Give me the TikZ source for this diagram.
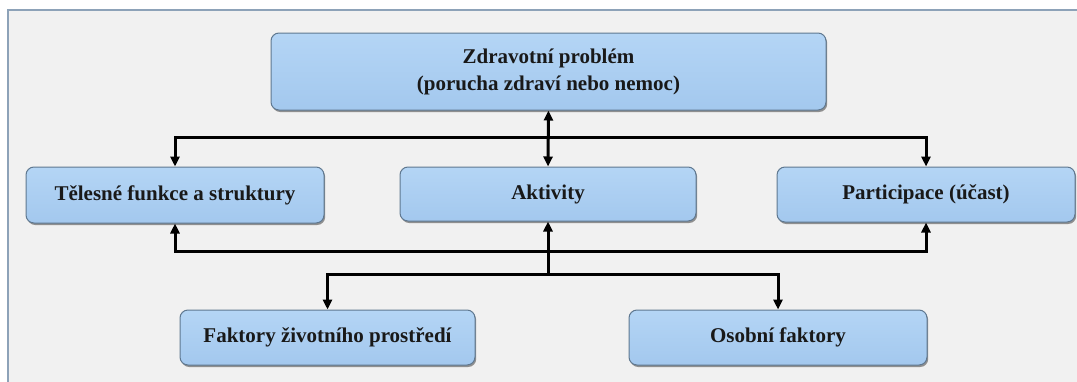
\documentclass[tikz,border=0pt]{standalone}
\usepackage{fontspec}
\setmainfont{Liberation Serif}[BoldFont={Liberation Serif Bold}]
\usetikzlibrary{arrows.meta,shadows}
\definecolor{pagebg}{HTML}{F1F1F1}
\definecolor{framecol}{HTML}{8DA2B8}
\definecolor{boxtop}{HTML}{B4D5F5}
\definecolor{boxbot}{HTML}{A3C8EE}
\definecolor{boxline}{HTML}{5F7890}
\tikzset{
  box/.style={rounded corners=8pt, draw=boxline, line width=1pt,
    top color=boxtop, bottom color=boxbot,
    drop shadow={shadow xshift=1.2pt, shadow yshift=-2pt, opacity=0.55, fill=black!75},
    font=\fontsize{21}{27}\selectfont\bfseries, text=black!90, align=center, inner sep=0pt},
  link/.style={line width=3pt, black, -{Triangle[length=10pt,width=9pt]}},
  twoway/.style={line width=3pt, black, {Triangle[length=10pt,width=9pt]}-{Triangle[length=10pt,width=9pt]}}
}
\begin{document}
\begin{tikzpicture}[x=1pt,y=-1pt]
  \useasboundingbox (0,0) rectangle (1077,381);
  % panel background and its frame
  \fill[white] (0,0) rectangle (1077,381);
  \fill[pagebg] (8,10) rectangle (1080,385);
  \draw[framecol, line width=2pt] (8,385) -- (8,10) -- (1080,10);

  % boxes
  \node[box, minimum width=555pt, minimum height=77pt] (health) at (548.5,71.5)
    {Zdravotní problém\\(porucha zdraví nebo nemoc)};
  \node[box, minimum width=298pt, minimum height=56pt] (body) at (175,195) {Tělesné funkce a struktury};
  \node[box, minimum width=296pt, minimum height=54pt] (act) at (548,194) {Aktivity};
  \node[box, minimum width=298pt, minimum height=55pt] (part) at (926,194.5) {Participace (účast)};
  \node[box, minimum width=295pt, minimum height=55pt] (env) at (327.5,337.5) {Faktory životního prostředí};
  \node[box, minimum width=298pt, minimum height=55pt] (pers) at (778,337.5) {Osobní faktory};

  % junction points of the connector buses
  \coordinate (upper) at (548,137);
  \coordinate (lower) at (548,251);
  \coordinate (base) at (548,274);

  % connectors
  \draw[twoway] (health.south) -- (act.north);
  \draw[link] (upper) -| (body.north);
  \draw[link] (upper) -| (part.north);
  \draw[link] (lower) -| (body.south);
  \draw[link] (lower) -| (part.south);
  \draw[link] (base) -- (act.south);
  \draw[link] (base) -| (env.north);
  \draw[link] (base) -| (pers.north);
\end{tikzpicture}
\end{document}
